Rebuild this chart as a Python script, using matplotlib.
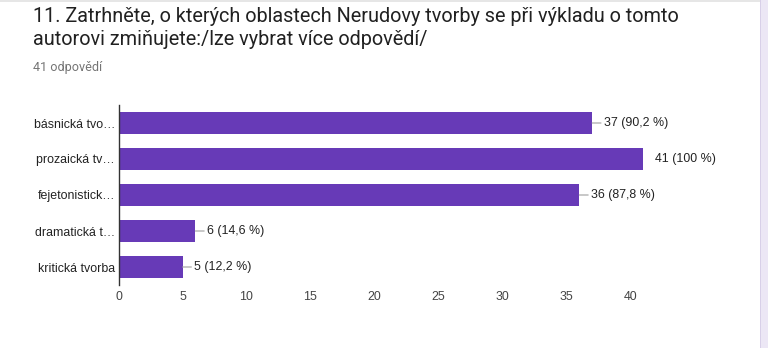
import matplotlib.pyplot as plt
from matplotlib.patches import Rectangle

### chart data
categories = ['básnická tvo…', 'prozaická tv…', 'fejetonistick…', 'dramatická t…', 'kritická tvorba']
counts = [37, 41, 36, 6, 5]
total = 41
xticks = [0, 5, 10, 15, 20, 25, 30, 35, 40]

title_lines = ['11. Zatrhněte, o kterých oblastech Nerudovy tvorby se při výkladu o tomto',
               'autorovi zmiňujete:/lze vybrat více odpovědí/']
subtitle = '41 odpovědí'

W, H = 768, 348
fig = plt.figure(figsize=(W / 100, H / 100), dpi=100)
fig.patch.set_facecolor('white')

def fx(px):
    return px / W

def fy(py):
    return 1 - py / H

### header texts
fig.text(fx(33), fy(22), title_lines[0], family='Roboto', fontsize=14.3, color='#212121', va='baseline')
fig.text(fx(33), fy(45), title_lines[1], family='Roboto', fontsize=14.3, color='#212121', va='baseline')
fig.text(fx(33), fy(71), subtitle, family='Roboto', fontsize=9.1, color='#757575', va='baseline')

### page edges: thin top line and right side strip
fig.patches.append(Rectangle((0, fy(1.5)), 1, 1.5 / H, transform=fig.transFigure,
                             facecolor='#e6e6e6', edgecolor='none'))
fig.patches.append(Rectangle((fx(760), 0), fx(8), 1, transform=fig.transFigure,
                             facecolor='#ece7f5', edgecolor='none'))
fig.patches.append(Rectangle((fx(760), 0), fx(1), 1, transform=fig.transFigure,
                             facecolor='#d8d0e8', edgecolor='none'))

### bar chart
ax_left, ax_top, ax_bottom = 118.5, 105, 285
xmax = 45
ax = fig.add_axes([fx(ax_left), fy(ax_bottom), 12.8 * xmax / W, (ax_bottom - ax_top) / H])
ypos = list(range(len(categories)))
ax.barh(ypos, counts, height=0.61, color='#673ab7')
ax.set_xlim(0, xmax)
ax.set_ylim(len(categories) - 0.5, -0.5)

fs = 8.9
ax.set_yticks(ypos)
ax.set_yticklabels(categories, family='Liberation Sans', fontsize=fs, color='#222222')
ax.set_xticks(xticks)
ax.set_xticklabels([str(t) for t in xticks], family='Liberation Sans', fontsize=fs, color='#444444')
ax.tick_params(axis='y', length=0, pad=2.5)
ax.tick_params(axis='x', length=0, pad=4.5)

for s in ['top', 'right', 'bottom']:
    ax.spines[s].set_visible(False)
ax.spines['left'].set_color('#333333')
ax.spines['left'].set_linewidth(1)
ax.set_facecolor('none')

for i, v in enumerate(counts):
    pct = f'{100 * v / total:.1f}'.rstrip('0').rstrip('.').replace('.', ',')
    label = f'{v} ({pct} %)'
    props = None
    if v != total:
        props = dict(arrowstyle='-', color='#9e9e9e', lw=0.8, shrinkA=0, shrinkB=0)
    ax.annotate(label, xy=(v, i), xytext=(8.4, 0), textcoords='offset points',
                va='center', ha='left', family='Liberation Sans', fontsize=fs,
                color='#222222', arrowprops=props)

fig.savefig('out.png', dpi=100)
